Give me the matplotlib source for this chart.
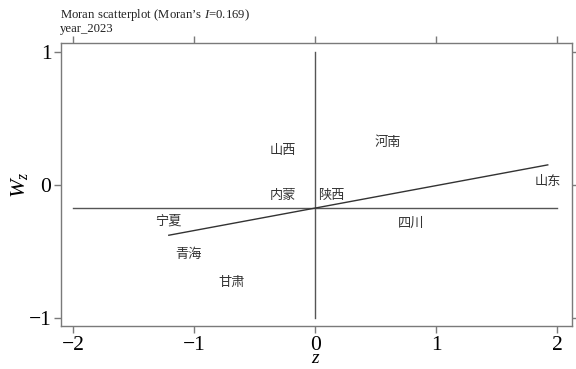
import numpy as np
import matplotlib
matplotlib.use("Agg")
import matplotlib.pyplot as plt

plt.rcParams['font.family'] = ['Liberation Serif', 'Noto Sans CJK SC', 'DejaVu Sans']
plt.rcParams['mathtext.fontset'] = 'custom'
plt.rcParams['mathtext.rm'] = 'Liberation Serif'
plt.rcParams['mathtext.it'] = 'Liberation Serif:italic'

# standardized values (z) and spatial lag (Wz)
provinces = ['山西', '河南', '内蒙', '陕西', '宁夏', '四川', '青海', '甘肃', '山东']
z = [-0.27, 0.60, -0.27, 0.13, -1.21, 0.79, -1.05, -0.69, 1.92]
wz = [0.26, 0.32, -0.08, -0.08, -0.27, -0.29, -0.52, -0.73, 0.03]

moran_i = 0.169
wz_mean = -0.173
year = 'year_2023'

xticks = [-2, -1, 0, 1, 2]
yticks = [-1, 0, 1]

line_col = '#555555'
frame_col = '#7a7a7a'

fig = plt.figure(figsize=(5.76, 3.69), dpi=100)
ax = fig.add_axes([0.106, 0.1165, 0.887, 0.767])

z = np.array(z)
wz = np.array(wz)

# reference lines
ax.plot([xticks[0], xticks[-1]], [wz_mean, wz_mean], color=line_col, lw=1)
ax.plot([0, 0], [yticks[0], yticks[-1]], color=line_col, lw=1)

# regression line (slope = Moran's I)
xs = np.array([z.min(), z.max()])
ax.plot(xs, wz_mean + moran_i * xs, color='#333333', lw=1)

for name, x, y in zip(provinces, z, wz):
    ax.text(x, y, name, ha='center', va='center', fontsize=9.5,
            family=['Noto Sans CJK SC', 'DejaVu Sans'], color='#333333')

ax.set_xlim(-2.1, 2.12)
ax.set_ylim(-1.06, 1.068)
ax.set_xticks(xticks)
ax.set_yticks(yticks)
ax.set_xticklabels([f'{t}'.replace('-', '\u2212') for t in xticks])
ax.set_yticklabels([f'{t}'.replace('-', '\u2212') for t in yticks])
ax.tick_params(axis='both', which='both', direction='out', length=5, width=1,
               color=frame_col, labelsize=15.5, top=True, right=True, pad=2)
for s in ax.spines.values():
    s.set_color(frame_col)
    s.set_linewidth(1)

# axis titles
fig.text(316 / 576, 2 / 369, r'$z$', fontsize=14, ha='center', va='bottom')
fig.text(20 / 576, 1 - 185 / 369, r'$W_z$', fontsize=16, ha='center', va='center',
         rotation=90)

fig.text(0.104, 0.958, f"Moran scatterplot (Moran’s $I$={moran_i:.3f})", fontsize=9.2,
         ha='left', va='center', color='#222222')
fig.text(0.104, 0.921, year, fontsize=9.2, ha='left', va='center', color='#222222')

fig.savefig('out.png', dpi=100)
